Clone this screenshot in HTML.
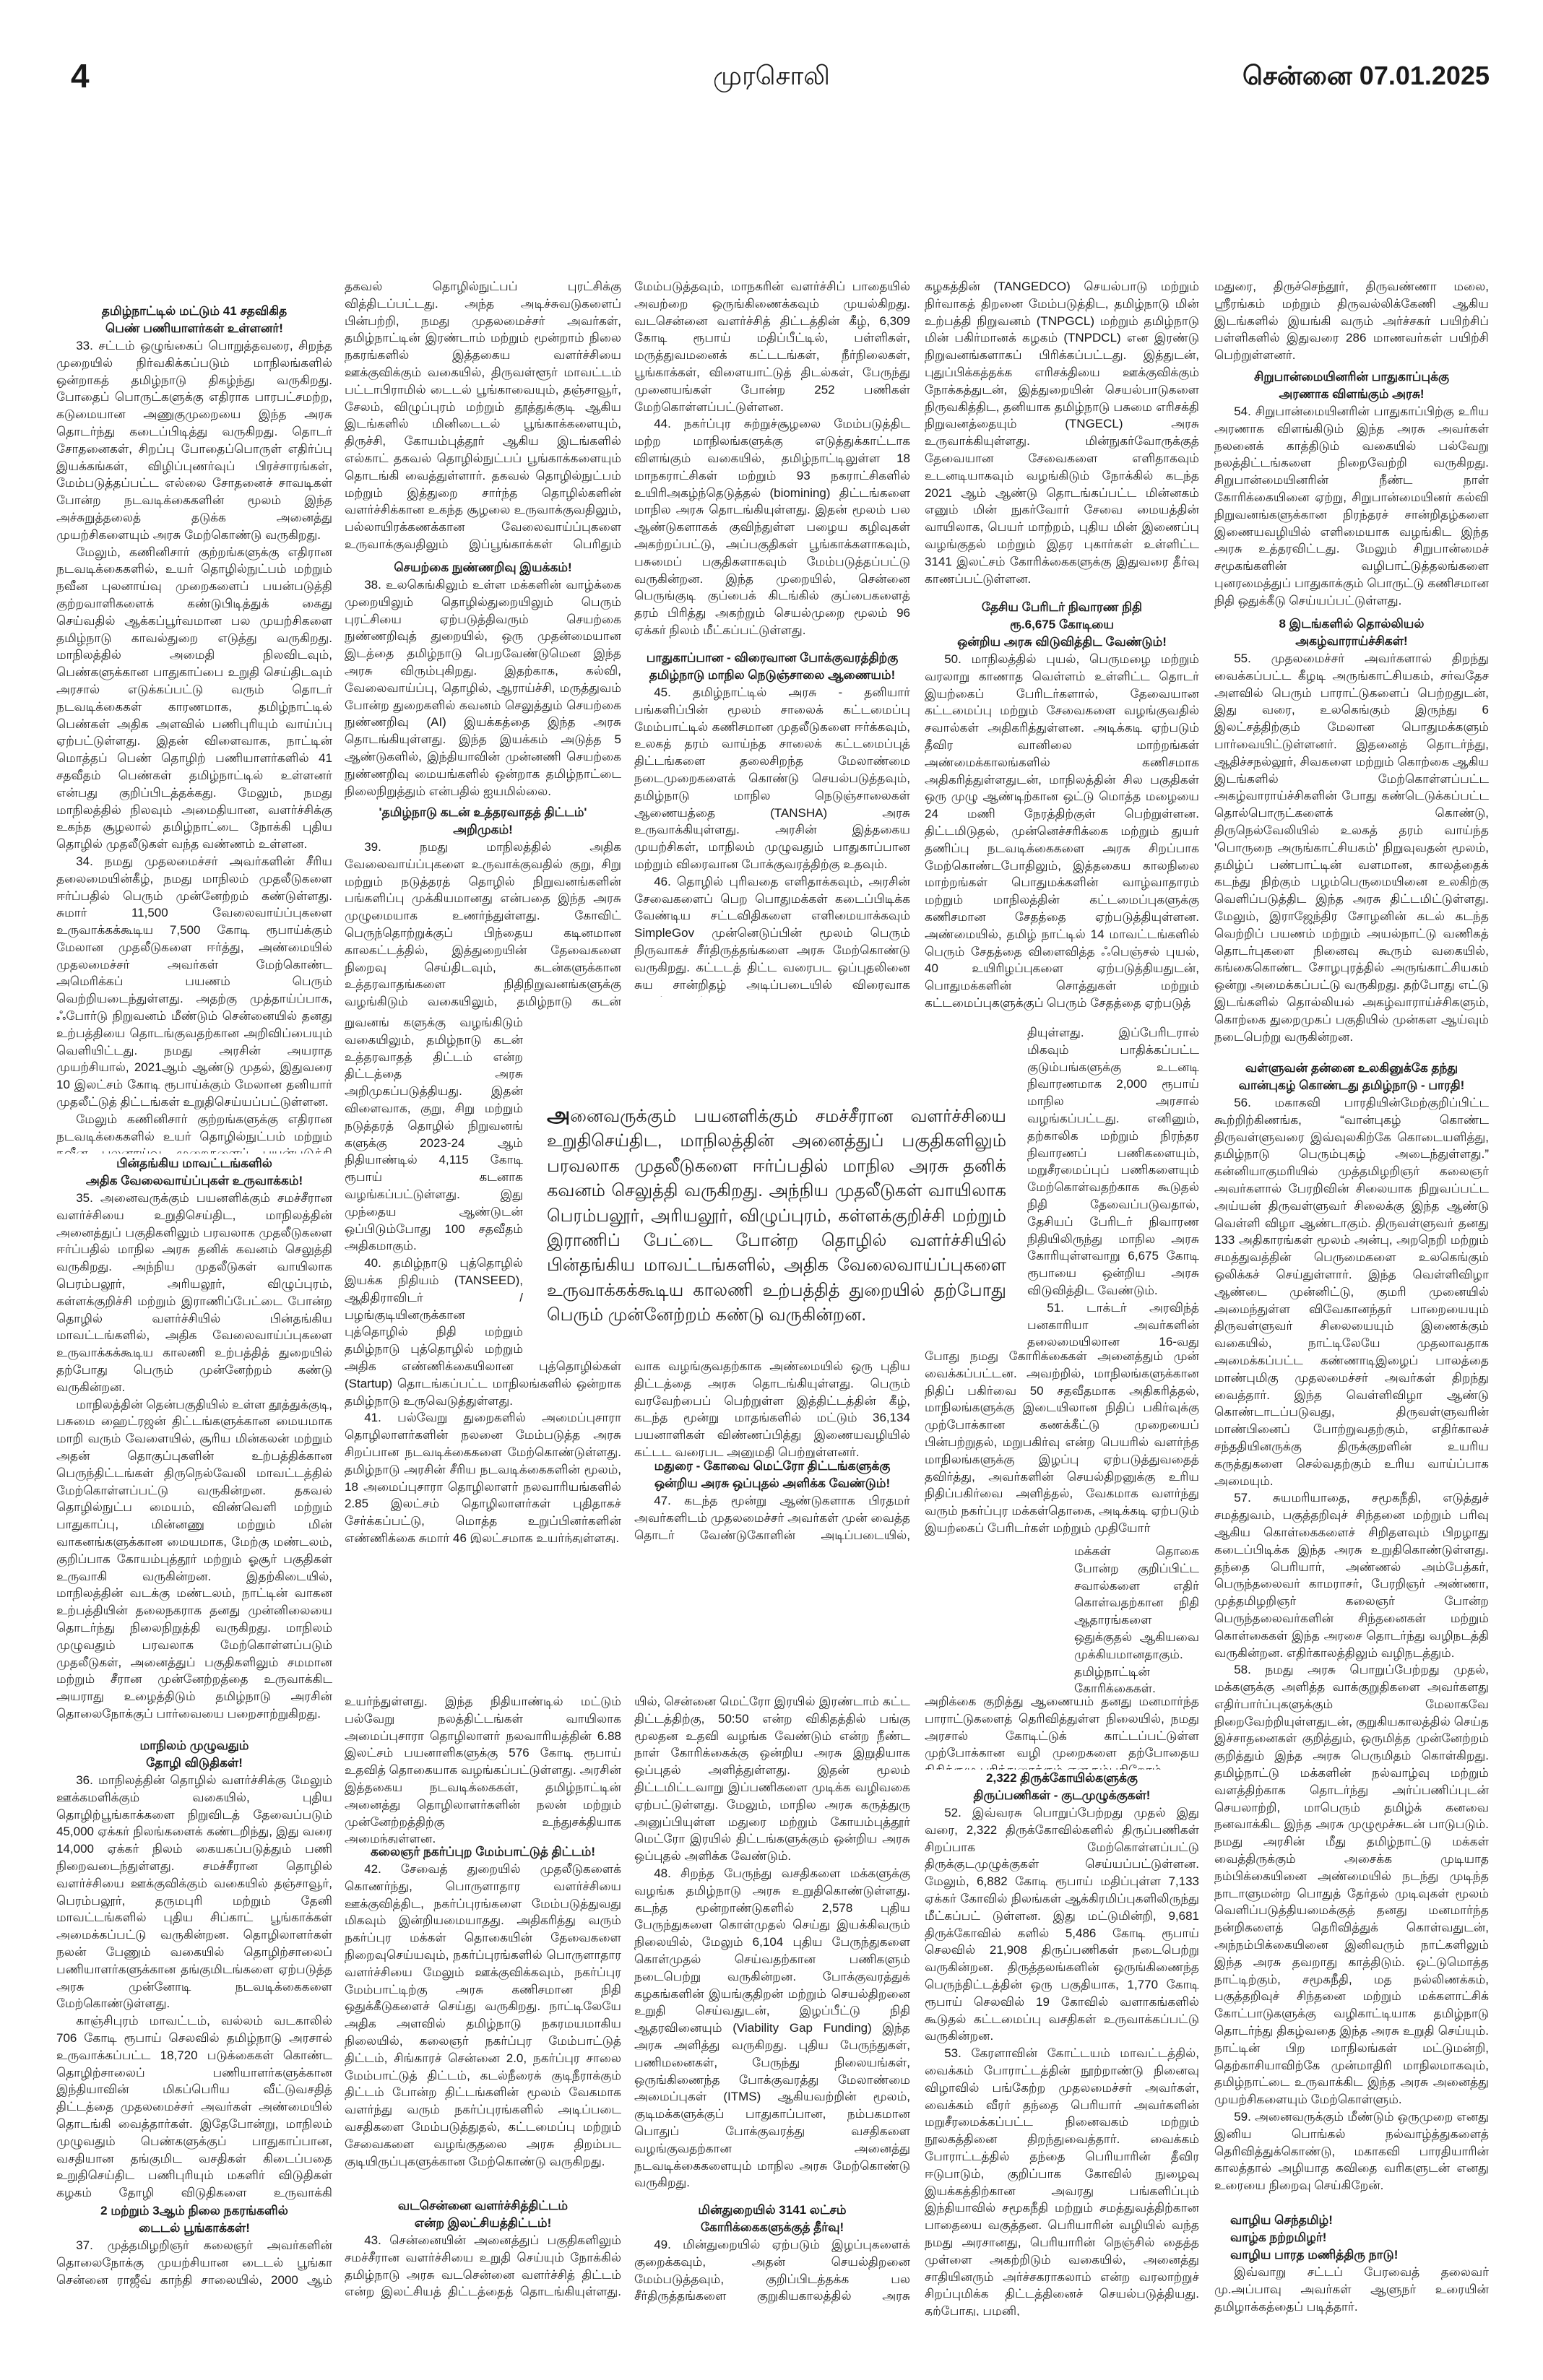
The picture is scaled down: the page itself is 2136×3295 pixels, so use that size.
<!DOCTYPE html>
<html><head><meta charset="utf-8">
<style>
html,body{margin:0;padding:0;background:#fff;}
body{width:2136px;height:3295px;position:relative;overflow:hidden;font-family:"Liberation Sans","DejaVu Sans",sans-serif;color:#1a1a1a;}
.b{position:absolute;overflow:hidden;text-align:justify;font-size:17px;line-height:23.8px;}
.b p{margin:0;text-indent:1.6em;}
.h{position:absolute;text-align:center;font-weight:bold;font-size:17px;line-height:23.8px;overflow:hidden;white-space:nowrap;}
.c1{left:78px;width:382px}.c2{left:477px;width:383px}.c3{left:878px;width:382px}.c4{left:1280px;width:380px}.c5{left:1681px;width:380px}
</style></head><body>

<div style="position:absolute;left:98px;top:80px;font-size:46px;font-weight:bold;line-height:50px;">4</div>
<div style="position:absolute;left:868px;width:400px;top:82px;font-size:36px;line-height:46px;text-align:center;">முரசொலி</div>
<div style="position:absolute;left:1600px;width:462px;top:82px;font-size:36px;font-weight:bold;line-height:46px;text-align:right;">சென்னை 07.01.2025</div>

<!-- COLUMN 1 -->
<div class="h c1" style="top:419px;">தமிழ்நாட்டில் மட்டும் 41 சதவிகித<br>பெண் பணியாளர்கள் உள்ளனர்!</div>
<div class="b c1" style="top:467px;height:1130px;">
<p>33. சட்டம் ஒழுங்கைப் பொறுத்தவரை, சிறந்த முறையில் நிர்வகிக்கப்படும் மாநிலங்களில் ஒன்றாகத் தமிழ்நாடு திகழ்ந்து வருகிறது. போதைப் பொருட்களுக்கு எதிராக பாரபட்சமற்ற, கடுமையான அணுகுமுறையை இந்த அரசு தொடர்ந்து கடைப்பிடித்து வருகிறது. தொடர் சோதனைகள், சிறப்பு போதைப்பொருள் எதிர்ப்பு இயக்கங்கள், விழிப்புணர்வுப் பிரச்சாரங்கள், மேம்படுத்தப்பட்ட எல்லை சோதனைச் சாவடிகள் போன்ற நடவடிக்கைகளின் மூலம் இந்த அச்சுறுத்தலைத் தடுக்க அனைத்து முயற்சிகளையும் அரசு மேற்கொண்டு வருகிறது.</p>
<p>மேலும், கணினிசார் குற்றங்களுக்கு எதிரான நடவடிக்கைகளில், உயர் தொழில்நுட்பம் மற்றும் நவீன புலனாய்வு முறைகளைப் பயன்படுத்தி குற்றவாளிகளைக் கண்டுபிடித்துக் கைது செய்வதில் ஆக்கப்பூர்வமான பல முயற்சிகளை தமிழ்நாடு காவல்துறை எடுத்து வருகிறது. மாநிலத்தில் அமைதி நிலவிடவும், பெண்களுக்கான பாதுகாப்பை உறுதி செய்திடவும் அரசால் எடுக்கப்பட்டு வரும் தொடர் நடவடிக்கைகள் காரணமாக, தமிழ்நாட்டில் பெண்கள் அதிக அளவில் பணிபுரியும் வாய்ப்பு ஏற்பட்டுள்ளது. இதன் விளைவாக, நாட்டின் மொத்தப் பெண் தொழிற் பணியாளர்களில் 41 சதவீதம் பெண்கள் தமிழ்நாட்டில் உள்ளனர் என்பது குறிப்பிடத்தக்கது. மேலும், நமது மாநிலத்தில் நிலவும் அமைதியான, வளர்ச்சிக்கு உகந்த சூழலால் தமிழ்நாட்டை நோக்கி புதிய தொழில் முதலீடுகள் வந்த வண்ணம் உள்ளன.</p>
<p>34. நமது முதலமைச்சர் அவர்களின் சீரிய தலைமையின்கீழ், நமது மாநிலம் முதலீடுகளை ஈர்ப்பதில் பெரும் முன்னேற்றம் கண்டுள்ளது. சுமார் 11,500 வேலைவாய்ப்புகளை உருவாக்கக்கூடிய 7,500 கோடி ரூபாய்க்கும் மேலான முதலீடுகளை ஈர்த்து, அண்மையில் முதலமைச்சர் அவர்கள் மேற்கொண்ட அமெரிக்கப் பயணம் பெரும் வெற்றியடைந்துள்ளது. அதற்கு முத்தாய்ப்பாக, ஃபோர்டு நிறுவனம் மீண்டும் சென்னையில் தனது உற்பத்தியை தொடங்குவதற்கான அறிவிப்பையும் வெளியிட்டது. நமது அரசின் அயராத முயற்சியால், 2021ஆம் ஆண்டு முதல், இதுவரை 10 இலட்சம் கோடி ரூபாய்க்கும் மேலான தனியார் முதலீட்டுத் திட்டங்கள் உறுதிசெய்யப்பட்டுள்ளன.</p>
<p>மேலும் கணினிசார் குற்றங்களுக்கு எதிரான நடவடிக்கைகளில் உயர் தொழில்நுட்பம் மற்றும் நவீன புலனாய்வு முறைகளைப் பயன்படுத்தி குற்றவாளிகளைக் கண்டுபிடித்துக் கைது செய்வதில் ஆக்கப்பூர்வமான பல முயற்சிகளை தமிழ்நாடு காவல்துறை எடுத்து வருகிறது.</p>
</div>
<div class="h c1" style="top:1599px;">பின்தங்கிய மாவட்டங்களில்<br>அதிக வேலைவாய்ப்புகள் உருவாக்கம்!</div>
<div class="b c1" style="top:1647px;height:758px;">
<p>35. அனைவருக்கும் பயனளிக்கும் சமச்சீரான வளர்ச்சியை உறுதிசெய்திட, மாநிலத்தின் அனைத்துப் பகுதிகளிலும் பரவலாக முதலீடுகளை ஈர்ப்பதில் மாநில அரசு தனிக் கவனம் செலுத்தி வருகிறது. அந்நிய முதலீடுகள் வாயிலாக பெரம்பலூர், அரியலூர், விழுப்புரம், கள்ளக்குறிச்சி மற்றும் இராணிப்பேட்டை போன்ற தொழில் வளர்ச்சியில் பின்தங்கிய மாவட்டங்களில், அதிக வேலைவாய்ப்புகளை உருவாக்கக்கூடிய காலணி உற்பத்தித் துறையில் தற்போது பெரும் முன்னேற்றம் கண்டு வருகின்றன.</p>
<p>மாநிலத்தின் தென்பகுதியில் உள்ள தூத்துக்குடி, பசுமை ஹைட்ரஜன் திட்டங்களுக்கான மையமாக மாறி வரும் வேளையில், சூரிய மின்கலன் மற்றும் அதன் தொகுப்புகளின் உற்பத்திக்கான பெருந்திட்டங்கள் திருநெல்வேலி மாவட்டத்தில் மேற்கொள்ளப்பட்டு வருகின்றன. தகவல் தொழில்நுட்ப மையம், விண்வெளி மற்றும் பாதுகாப்பு, மின்னணு மற்றும் மின் வாகனங்களுக்கான மையமாக, மேற்கு மண்டலம், குறிப்பாக கோயம்புத்தூர் மற்றும் ஓசூர் பகுதிகள் உருவாகி வருகின்றன. இதற்கிடையில், மாநிலத்தின் வடக்கு மண்டலம், நாட்டின் வாகன உற்பத்தியின் தலைநகராக தனது முன்னிலையை தொடர்ந்து நிலைநிறுத்தி வருகிறது. மாநிலம் முழுவதும் பரவலாக மேற்கொள்ளப்படும் முதலீடுகள், அனைத்துப் பகுதிகளிலும் சமமான மற்றும் சீரான முன்னேற்றத்தை உருவாக்கிட அயராது உழைத்திடும் தமிழ்நாடு அரசின் தொலைநோக்குப் பார்வையை பறைசாற்றுகிறது.</p>
</div>
<div class="h c1" style="top:2405px;">மாநிலம் முழுவதும்<br>தோழி விடுதிகள்!</div>
<div class="b c1" style="top:2453px;height:596px;">
<p>36. மாநிலத்தின் தொழில் வளர்ச்சிக்கு மேலும் ஊக்கமளிக்கும் வகையில், புதிய தொழிற்பூங்காக்களை நிறுவிடத் தேவைப்படும் 45,000 ஏக்கர் நிலங்களைக் கண்டறிந்து, இது வரை 14,000 ஏக்கர் நிலம் கையகப்படுத்தும் பணி நிறைவடைந்துள்ளது. சமச்சீரான தொழில் வளர்ச்சியை ஊக்குவிக்கும் வகையில் தஞ்சாவூர், பெரம்பலூர், தருமபுரி மற்றும் தேனி மாவட்டங்களில் புதிய சிப்காட் பூங்காக்கள் அமைக்கப்பட்டு வருகின்றன. தொழிலாளர்கள் நலன் பேணும் வகையில் தொழிற்சாலைப் பணியாளர்களுக்கான தங்குமிடங்களை ஏற்படுத்த அரசு முன்னோடி நடவடிக்கைகளை மேற்கொண்டுள்ளது.</p>
<p>காஞ்சிபுரம் மாவட்டம், வல்லம் வடகாலில் 706 கோடி ரூபாய் செலவில் தமிழ்நாடு அரசால் உருவாக்கப்பட்ட 18,720 படுக்கைகள் கொண்ட தொழிற்சாலைப் பணியாளர்களுக்கான இந்தியாவின் மிகப்பெரிய வீட்டுவசதித் திட்டத்தை முதலமைச்சர் அவர்கள் அண்மையில் தொடங்கி வைத்தார்கள். இதேபோன்று, மாநிலம் முழுவதும் பெண்களுக்குப் பாதுகாப்பான, வசதியான தங்குமிட வசதிகள் கிடைப்பதை உறுதிசெய்திட பணிபுரியும் மகளிர் விடுதிகள் கழகம் தோழி விடுதிகளை உருவாக்கி வருகின்றது.</p>
</div>
<div class="h c1" style="top:3049px;">2 மற்றும் 3ஆம் நிலை நகரங்களில்<br>டைடல் பூங்காக்கள்!</div>
<div class="b c1" style="top:3097px;height:72px;">
<p>37. முத்தமிழறிஞர் கலைஞர் அவர்களின் தொலைநோக்கு முயற்சியான டைடல் பூங்கா சென்னை ராஜீவ் காந்தி சாலையில், 2000 ஆம் ஆண்டில் நிறுவப்பட்டதன் மூலம், தமிழ்நாட்டில் தகவல் தொழில்நுட்பப் புரட்சிக்கு வித்திடப்பட்டது.</p>
</div>

<!-- COLUMN 2 -->
<div class="b c2" style="top:385px;height:382px;">
<p style="text-indent:0">தகவல் தொழில்நுட்பப் புரட்சிக்கு வித்திடப்பட்டது. அந்த அடிச்சுவடுகளைப் பின்பற்றி, நமது முதலமைச்சர் அவர்கள், தமிழ்நாட்டின் இரண்டாம் மற்றும் மூன்றாம் நிலை நகரங்களில் இத்தகைய வளர்ச்சியை ஊக்குவிக்கும் வகையில், திருவள்ளூர் மாவட்டம் பட்டாபிராமில் டைடல் பூங்காவையும், தஞ்சாவூர், சேலம், விழுப்புரம் மற்றும் தூத்துக்குடி ஆகிய இடங்களில் மினிடைடல் பூங்காக்களையும், திருச்சி, கோயம்புத்தூர் ஆகிய இடங்களில் எல்காட் தகவல் தொழில்நுட்பப் பூங்காக்களையும் தொடங்கி வைத்துள்ளார். தகவல் தொழில்நுட்பம் மற்றும் இத்துறை சார்ந்த தொழில்களின் வளர்ச்சிக்கான உகந்த சூழலை உருவாக்குவதிலும், பல்லாயிரக்கணக்கான வேலைவாய்ப்புகளை உருவாக்குவதிலும் இப்பூங்காக்கள் பெரிதும் உதவும்.</p>
</div>
<div class="h c2" style="top:774px;">செயற்கை நுண்ணறிவு இயக்கம்!</div>
<div class="b c2" style="top:798px;height:310px;">
<p>38. உலகெங்கிலும் உள்ள மக்களின் வாழ்க்கை முறையிலும் தொழில்துறையிலும் பெரும் புரட்சியை ஏற்படுத்திவரும் செயற்கை நுண்ணறிவுத் துறையில், ஒரு முதன்மையான இடத்தை தமிழ்நாடு பெறவேண்டுமென இந்த அரசு விரும்புகிறது. இதற்காக, கல்வி, வேலைவாய்ப்பு, தொழில், ஆராய்ச்சி, மருத்துவம் போன்ற துறைகளில் கவனம் செலுத்தும் செயற்கை நுண்ணறிவு (AI) இயக்கத்தை இந்த அரசு தொடங்கியுள்ளது. இந்த இயக்கம் அடுத்த 5 ஆண்டுகளில், இந்தியாவின் முன்னணி செயற்கை நுண்ணறிவு மையங்களில் ஒன்றாக தமிழ்நாட்டை நிலைநிறுத்தும் என்பதில் ஐயமில்லை.</p>
</div>
<div class="h c2" style="top:1113px;">'தமிழ்நாடு கடன் உத்தரவாதத் திட்டம்'<br>அறிமுகம்!</div>
<div class="b c2" style="top:1161px;height:240px;">
<p>39. நமது மாநிலத்தில் அதிக வேலைவாய்ப்புகளை உருவாக்குவதில் குறு, சிறு மற்றும் நடுத்தரத் தொழில் நிறுவனங்களின் பங்களிப்பு முக்கியமானது என்பதை இந்த அரசு முழுமையாக உணர்ந்துள்ளது. கோவிட் பெருந்தொற்றுக்குப் பிந்தைய கடினமான காலகட்டத்தில், இத்துறையின் தேவைகளை நிறைவு செய்திடவும், கடன்களுக்கான உத்தரவாதங்களை நிதிநிறுவனங்களுக்கு வழங்கிடும் வகையிலும், தமிழ்நாடு கடன் உத்தரவாதத் திட்டம்.</p>
</div>
<div class="b" style="left:477px;width:247px;top:1404px;height:476px;">
<p style="text-indent:0">றுவனங் களுக்கு வழங்கிடும் வகையிலும், தமிழ்நாடு கடன் உத்தரவாதத் திட்டம் என்ற திட்டத்தை அரசு அறிமுகப்படுத்தியது. இதன் விளைவாக, குறு, சிறு மற்றும் நடுத்தரத் தொழில் நிறுவனங் களுக்கு 2023-24 ஆம் நிதியாண்டில் 4,115 கோடி ரூபாய் கடனாக வழங்கப்பட்டுள்ளது. இது முந்தைய ஆண்டுடன் ஒப்பிடும்போது 100 சதவீதம் அதிகமாகும்.</p>
<p>40. தமிழ்நாடு புத்தொழில் இயக்க நிதியம் (TANSEED), ஆதிதிராவிடர் / பழங்குடியினருக்கான புத்தொழில் நிதி மற்றும் தமிழ்நாடு புத்தொழில் மற்றும் புத்தாக்கக் கொள்கை போன்ற மாநில அரசின் திட்டங்களின் மூலம், நாட்டிலேயே</p>
</div>
<div class="b c2" style="top:1880px;height:256px;">
<p style="text-indent:0">அதிக எண்ணிக்கையிலான புத்தொழில்கள் (Startup) தொடங்கப்பட்ட மாநிலங்களில் ஒன்றாக தமிழ்நாடு உருவெடுத்துள்ளது.</p>
<p>41. பல்வேறு துறைகளில் அமைப்புசாரா தொழிலாளர்களின் நலனை மேம்படுத்த அரசு சிறப்பான நடவடிக்கைகளை மேற்கொண்டுள்ளது. தமிழ்நாடு அரசின் சீரிய நடவடிக்கைகளின் மூலம், 18 அமைப்புசாரா தொழிலாளர் நலவாரியங்களில் 2.85 இலட்சம் தொழிலாளர்கள் புதிதாகச் சேர்க்கப்பட்டு, மொத்த உறுப்பினர்களின் எண்ணிக்கை சுமார் 46 இலட்சமாக உயர்ந்துள்ளது.</p>
</div>
<div class="b c2" style="top:2344px;height:208px;">
<p style="text-indent:0">உயர்ந்துள்ளது. இந்த நிதியாண்டில் மட்டும் பல்வேறு நலத்திட்டங்கள் வாயிலாக அமைப்புசாரா தொழிலாளர் நலவாரியத்தின் 6.88 இலட்சம் பயனாளிகளுக்கு 576 கோடி ரூபாய் உதவித் தொகையாக வழங்கப்பட்டுள்ளது. அரசின் இத்தகைய நடவடிக்கைகள், தமிழ்நாட்டின் அனைத்து தொழிலாளர்களின் நலன் மற்றும் முன்னேற்றத்திற்கு உந்துசக்தியாக அமைந்துள்ளன.</p>
</div>
<div class="h c2" style="top:2552px;">கலைஞர் நகர்ப்புற மேம்பாட்டுத் திட்டம்!</div>
<div class="b c2" style="top:2576px;height:466px;">
<p>42. சேவைத் துறையில் முதலீடுகளைக் கொணர்ந்து, பொருளாதார வளர்ச்சியை ஊக்குவித்திட, நகர்ப்புரங்களை மேம்படுத்துவது மிகவும் இன்றியமையாதது. அதிகரித்து வரும் நகர்ப்புர மக்கள் தொகையின் தேவைகளை நிறைவுசெய்யவும், நகர்ப்புரங்களில் பொருளாதார வளர்ச்சியை மேலும் ஊக்குவிக்கவும், நகர்ப்புர மேம்பாட்டிற்கு அரசு கணிசமான நிதி ஒதுக்கீடுகளைச் செய்து வருகிறது. நாட்டிலேயே அதிக அளவில் தமிழ்நாடு நகரமயமாகிய நிலையில், கலைஞர் நகர்ப்புர மேம்பாட்டுத் திட்டம், சிங்காரச் சென்னை 2.0, நகர்ப்புர சாலை மேம்பாட்டுத் திட்டம், கடல்நீரைக் குடிநீராக்கும் திட்டம் போன்ற திட்டங்களின் மூலம் வேகமாக வளர்ந்து வரும் நகர்ப்புரங்களில் அடிப்படை வசதிகளை மேம்படுத்துதல், கட்டமைப்பு மற்றும் சேவைகளை வழங்குதலை அரசு திறம்பட குடியிருப்புகளுக்கான மேற்கொண்டு வருகிறது.</p>
</div>
<div class="h c2" style="top:3042px;">வடசென்னை வளர்ச்சித்திட்டம்<br>என்ற இலட்சியத்திட்டம்!</div>
<div class="b c2" style="top:3090px;height:96px;">
<p>43. சென்னையின் அனைத்துப் பகுதிகளிலும் சமச்சீரான வளர்ச்சியை உறுதி செய்யும் நோக்கில் தமிழ்நாடு அரசு வடசென்னை வளர்ச்சித் திட்டம் என்ற இலட்சியத் திட்டத்தைத் தொடங்கியுள்ளது. இந்த முன்முயற்சியானது, சென்னையிலுள்ள வளர்ச்சி குறைந்த பகுதிகளை</p>
</div>

<!-- COLUMN 3 -->
<div class="b c3" style="top:385px;height:514px;">
<p style="text-indent:0">மேம்படுத்தவும், மாநகரின் வளர்ச்சிப் பாதையில் அவற்றை ஒருங்கிணைக்கவும் முயல்கிறது. வடசென்னை வளர்ச்சித் திட்டத்தின் கீழ், 6,309 கோடி ரூபாய் மதிப்பீட்டில், பள்ளிகள், மருத்துவமனைக் கட்டடங்கள், நீர்நிலைகள், பூங்காக்கள், விளையாட்டுத் திடல்கள், பேருந்து முனையங்கள் போன்ற 252 பணிகள் மேற்கொள்ளப்பட்டுள்ளன.</p>
<p>44. நகர்ப்புர சுற்றுச்சூழலை மேம்படுத்திட மற்ற மாநிலங்களுக்கு எடுத்துக்காட்டாக விளங்கும் வகையில், தமிழ்நாட்டிலுள்ள 18 மாநகராட்சிகள் மற்றும் 93 நகராட்சிகளில் உயிரிஅகழ்ந்தெடுத்தல் (biomining) திட்டங்களை மாநில அரசு தொடங்கியுள்ளது. இதன் மூலம் பல ஆண்டுகளாகக் குவிந்துள்ள பழைய கழிவுகள் அகற்றப்பட்டு, அப்பகுதிகள் பூங்காக்களாகவும், பசுமைப் பகுதிகளாகவும் மேம்படுத்தப்பட்டு வருகின்றன. இந்த முறையில், சென்னை பெருங்குடி குப்பைக் கிடங்கில் குப்பைகளைத் தரம் பிரித்து அகற்றும் செயல்முறை மூலம் 96 ஏக்கர் நிலம் மீட்கப்பட்டுள்ளது.</p>
</div>
<div class="h c3" style="top:899px;">பாதுகாப்பான - விரைவான போக்குவரத்திற்கு<br>தமிழ்நாடு மாநில நெடுஞ்சாலை ஆணையம்!</div>
<div class="b c3" style="top:947px;height:433px;">
<p>45. தமிழ்நாட்டில் அரசு - தனியார் பங்களிப்பின் மூலம் சாலைக் கட்டமைப்பு மேம்பாட்டில் கணிசமான முதலீடுகளை ஈர்க்கவும், உலகத் தரம் வாய்ந்த சாலைக் கட்டமைப்புத் திட்டங்களை தலைசிறந்த மேலாண்மை நடைமுறைகளைக் கொண்டு செயல்படுத்தவும், தமிழ்நாடு மாநில நெடுஞ்சாலைகள் ஆணையத்தை (TANSHA) அரசு உருவாக்கியுள்ளது. அரசின் இத்தகைய முயற்சிகள், மாநிலம் முழுவதும் பாதுகாப்பான மற்றும் விரைவான போக்குவரத்திற்கு உதவும்.</p>
<p>46. தொழில் புரிவதை எளிதாக்கவும், அரசின் சேவைகளைப் பெற பொதுமக்கள் கடைப்பிடிக்க வேண்டிய சட்டவிதிகளை எளிமையாக்கவும் SimpleGov முன்னெடுப்பின் மூலம் பெரும் நிருவாகச் சீர்திருத்தங்களை அரசு மேற்கொண்டு வருகிறது. கட்டடத் திட்ட வரைபட ஒப்புதலினை சுய சான்றிதழ் அடிப்படையில் விரைவாக வழங்குவதற்காக.</p>
</div>
<div class="b c3" style="top:1880px;height:138px;">
<p style="text-indent:0">வாக வழங்குவதற்காக அண்மையில் ஒரு புதிய திட்டத்தை அரசு தொடங்கியுள்ளது. பெரும் வரவேற்பைப் பெற்றுள்ள இத்திட்டத்தின் கீழ், கடந்த மூன்று மாதங்களில் மட்டும் 36,134 பயனாளிகள் விண்ணப்பித்து இணையவழியில் கட்டட வரைபட அனுமதி பெற்றுள்ளனர்.</p>
</div>
<div class="h c3" style="top:2018px;">மதுரை - கோவை மெட்ரோ திட்டங்களுக்கு<br>ஒன்றிய அரசு ஒப்புதல் அளிக்க வேண்டும்!</div>
<div class="b c3" style="top:2066px;height:72px;">
<p>47. கடந்த மூன்று ஆண்டுகளாக பிரதமர் அவர்களிடம் முதலமைச்சர் அவர்கள் முன் வைத்த தொடர் வேண்டுகோளின் அடிப்படையில், சென்னை மெட்ரோ.</p>
</div>
<div class="b c3" style="top:2344px;height:704px;">
<p style="text-indent:0">யில், சென்னை மெட்ரோ இரயில் இரண்டாம் கட்ட திட்டத்திற்கு, 50:50 என்ற விகிதத்தில் பங்கு மூலதன உதவி வழங்க வேண்டும் என்ற நீண்ட நாள் கோரிக்கைக்கு ஒன்றிய அரசு இறுதியாக ஒப்புதல் அளித்துள்ளது. இதன் மூலம் திட்டமிட்டவாறு இப்பணிகளை முடிக்க வழிவகை ஏற்பட்டுள்ளது. மேலும், மாநில அரசு கருத்துரு அனுப்பியுள்ள மதுரை மற்றும் கோயம்புத்தூர் மெட்ரோ இரயில் திட்டங்களுக்கும் ஒன்றிய அரசு ஒப்புதல் அளிக்க வேண்டும்.</p>
<p>48. சிறந்த பேருந்து வசதிகளை மக்களுக்கு வழங்க தமிழ்நாடு அரசு உறுதிகொண்டுள்ளது. கடந்த மூன்றாண்டுகளில் 2,578 புதிய பேருந்துகளை கொள்முதல் செய்து இயக்கிவரும் நிலையில், மேலும் 6,104 புதிய பேருந்துகளை கொள்முதல் செய்வதற்கான பணிகளும் நடைபெற்று வருகின்றன. போக்குவரத்துக் கழகங்களின் இயங்குதிறன் மற்றும் செயல்திறனை உறுதி செய்வதுடன், இழப்பீட்டு நிதி ஆதரவினையும் (Viability Gap Funding) இந்த அரசு அளித்து வருகிறது. புதிய பேருந்துகள், பணிமனைகள், பேருந்து நிலையங்கள், ஒருங்கிணைந்த போக்குவரத்து மேலாண்மை அமைப்புகள் (ITMS) ஆகியவற்றின் மூலம், குடிமக்களுக்குப் பாதுகாப்பான, நம்பகமான பொதுப் போக்குவரத்து வசதிகளை வழங்குவதற்கான அனைத்து நடவடிக்கைகளையும் மாநில அரசு மேற்கொண்டு வருகிறது.</p>
</div>
<div class="h c3" style="top:3048px;">மின்துறையில் 3141 லட்சம்<br>கோரிக்கைகளுக்குத் தீர்வு!</div>
<div class="b c3" style="top:3096px;height:96px;">
<p>49. மின்துறையில் ஏற்படும் இழப்புகளைக் குறைக்கவும், அதன் செயல்திறனை மேம்படுத்தவும், குறிப்பிடத்தக்க பல சீர்திருத்தங்களை குறுகியகாலத்தில் அரசு மேற்கொண்டுள்ளது. தமிழ்நாடு மின் உற்பத்தி மற்றும் பகிர்மானக்</p>
</div>

<!-- BOX -->
<div style="position:absolute;left:757px;width:636px;top:1527px;height:312px;overflow:hidden;font-size:24px;line-height:34.4px;text-align:justify;">
<span style="font-weight:bold;font-size:29px;">அ</span>னைவருக்கும் பயனளிக்கும் சமச்சீரான வளர்ச்சியை உறுதிசெய்திட, மாநிலத்தின் அனைத்துப் பகுதிகளிலும் பரவலாக முதலீடுகளை ஈர்ப்பதில் மாநில அரசு தனிக் கவனம் செலுத்தி வருகிறது. அந்நிய முதலீடுகள் வாயிலாக பெரம்பலூர், அரியலூர், விழுப்புரம், கள்ளக்குறிச்சி மற்றும் இராணிப் பேட்டை போன்ற தொழில் வளர்ச்சியில் பின்தங்கிய மாவட்டங்களில், அதிக வேலைவாய்ப்புகளை உருவாக்கக்கூடிய காலணி உற்பத்தித் துறையில் தற்போது பெரும் முன்னேற்றம் கண்டு வருகின்றன.
</div>

<!-- COLUMN 4 -->
<div class="b c4" style="top:385px;height:444px;">
<p style="text-indent:0">கழகத்தின் (TANGEDCO) செயல்பாடு மற்றும் நிர்வாகத் திறனை மேம்படுத்திட, தமிழ்நாடு மின் உற்பத்தி நிறுவனம் (TNPGCL) மற்றும் தமிழ்நாடு மின் பகிர்மானக் கழகம் (TNPDCL) என இரண்டு நிறுவனங்களாகப் பிரிக்கப்பட்டது. இத்துடன், புதுப்பிக்கத்தக்க எரிசக்தியை ஊக்குவிக்கும் நோக்கத்துடன், இத்துறையின் செயல்பாடுகளை நிருவகித்திட, தனியாக தமிழ்நாடு பசுமை எரிசக்தி நிறுவனத்தையும் (TNGECL) அரசு உருவாக்கியுள்ளது. மின்நுகர்வோருக்குத் தேவையான சேவைகளை எளிதாகவும் உடனடியாகவும் வழங்கிடும் நோக்கில் கடந்த 2021 ஆம் ஆண்டு தொடங்கப்பட்ட மின்னகம் எனும் மின் நுகர்வோர் சேவை மையத்தின் வாயிலாக, பெயர் மாற்றம், புதிய மின் இணைப்பு வழங்குதல் மற்றும் இதர புகார்கள் உள்ளிட்ட 3141 இலட்சம் கோரிக்கைகளுக்கு இதுவரை தீர்வு காணப்பட்டுள்ளன.</p>
</div>
<div class="h c4" style="top:829px;">தேசிய பேரிடர் நிவாரண நிதி<br>ரூ.6,675 கோடியை<br>ஒன்றிய அரசு விடுவித்திட வேண்டும்!</div>
<div class="b c4" style="top:901px;height:505px;">
<p>50. மாநிலத்தில் புயல், பெருமழை மற்றும் வரலாறு காணாத வெள்ளம் உள்ளிட்ட தொடர் இயற்கைப் பேரிடர்களால், தேவையான கட்டமைப்பு மற்றும் சேவைகளை வழங்குவதில் சவால்கள் அதிகரித்துள்ளன. அடிக்கடி ஏற்படும் தீவிர வானிலை மாற்றங்கள் அண்மைக்காலங்களில் கணிசமாக அதிகரித்துள்ளதுடன், மாநிலத்தின் சில பகுதிகள் ஒரு முழு ஆண்டிற்கான ஒட்டு மொத்த மழையை 24 மணி நேரத்திற்குள் பெற்றுள்ளன. திட்டமிடுதல், முன்னெச்சரிக்கை மற்றும் துயர் தணிப்பு நடவடிக்கைகளை அரசு சிறப்பாக மேற்கொண்டபோதிலும், இத்தகைய காலநிலை மாற்றங்கள் பொதுமக்களின் வாழ்வாதாரம் மற்றும் மாநிலத்தின் கட்டமைப்புகளுக்கு கணிசமான சேதத்தை ஏற்படுத்தியுள்ளன. அண்மையில், தமிழ் நாட்டில் 14 மாவட்டங்களில் பெரும் சேதத்தை விளைவித்த ஃபெஞ்சல் புயல், 40 உயிரிழப்புகளை ஏற்படுத்தியதுடன், பொதுமக்களின் சொத்துகள் மற்றும் கட்டமைப்புகளுக்குப் பெரும் சேதத்தை ஏற்படுத்</p>
</div>
<div class="b" style="left:1422px;width:238px;top:1418px;height:452px;">
<p style="text-indent:0">தியுள்ளது. இப்பேரிடரால் மிகவும் பாதிக்கப்பட்ட குடும்பங்களுக்கு உடனடி நிவாரணமாக 2,000 ரூபாய் மாநில அரசால் வழங்கப்பட்டது. எனினும், தற்காலிக மற்றும் நிரந்தர நிவாரணப் பணிகளையும், மறுசீரமைப்புப் பணிகளையும் மேற்கொள்வதற்காக கூடுதல் நிதி தேவைப்படுவதால், தேசியப் பேரிடர் நிவாரண நிதியிலிருந்து மாநில அரசு கோரியுள்ளவாறு 6,675 கோடி ரூபாயை ஒன்றிய அரசு விடுவித்திட வேண்டும்.</p>
<p>51. டாக்டர் அரவிந்த் பனகாரியா அவர்களின் தலைமையிலான 16-வது நிதிக்குழு தமிழ்நாட்டிற்கு வருகை தந்த</p>
</div>
<div class="b c4" style="top:1866px;height:270px;">
<p style="text-indent:0">போது நமது கோரிக்கைகள் அனைத்தும் முன் வைக்கப்பட்டன. அவற்றில், மாநிலங்களுக்கான நிதிப் பகிர்வை 50 சதவீதமாக அதிகரித்தல், மாநிலங்களுக்கு இடையிலான நிதிப் பகிர்வுக்கு முற்போக்கான கணக்கீட்டு முறையைப் பின்பற்றுதல், மறுபகிர்வு என்ற பெயரில் வளர்ந்த மாநிலங்களுக்கு இழப்பு ஏற்படுத்துவதைத் தவிர்த்து, அவர்களின் செயல்திறனுக்கு உரிய நிதிப்பகிர்வை அளித்தல், வேகமாக வளர்ந்து வரும் நகர்ப்புர மக்கள்தொகை, அடிக்கடி ஏற்படும் இயற்கைப் பேரிடர்கள் மற்றும் முதியோர்</p>
</div>
<div class="b" style="left:1487px;width:173px;top:2136px;height:208px;">
<p style="text-indent:0">மக்கள் தொகை போன்ற குறிப்பிட்ட சவால்களை எதிர் கொள்வதற்கான நிதி ஆதாரங்களை ஒதுக்குதல் ஆகியவை முக்கியமானதாகும். தமிழ்நாட்டின் கோரிக்கைகள்.</p>
</div>
<div class="b c4" style="top:2344px;height:106px;">
<p style="text-indent:0">அறிக்கை குறித்து ஆணையம் தனது மனமார்ந்த பாராட்டுகளைத் தெரிவித்துள்ள நிலையில், நமது அரசால் கோடிட்டுக் காட்டப்பட்டுள்ள முற்போக்கான வழி முறைகளை தற்போதைய நிதிக்குழு பரிந்துரைக்கும் என நம்புகிறோம்.</p>
</div>
<div class="h c4" style="top:2450px;">2,322 திருக்கோயில்களுக்கு<br>திருப்பணிகள் - குடமுழுக்குகள்!</div>
<div class="b c4" style="top:2498px;height:708px;">
<p>52. இவ்வரசு பொறுப்பேற்றது முதல் இது வரை, 2,322 திருக்கோவில்களில் திருப்பணிகள் சிறப்பாக மேற்கொள்ளப்பட்டு திருக்குடமுழுக்குகள் செய்யப்பட்டுள்ளன. மேலும், 6,882 கோடி ரூபாய் மதிப்புள்ள 7,133 ஏக்கர் கோவில் நிலங்கள் ஆக்கிரமிப்புகளிலிருந்து மீட்கப்பட் டுள்ளன. இது மட்டுமின்றி, 9,681 திருக்கோவில் களில் 5,486 கோடி ரூபாய் செலவில் 21,908 திருப்பணிகள் நடைபெற்று வருகின்றன. திருத்தலங்களின் ஒருங்கிணைந்த பெருந்திட்டத்தின் ஒரு பகுதியாக, 1,770 கோடி ரூபாய் செலவில் 19 கோவில் வளாகங்களில் கூடுதல் கட்டமைப்பு வசதிகள் உருவாக்கப்பட்டு வருகின்றன.</p>
<p>53. கேரளாவின் கோட்டயம் மாவட்டத்தில், வைக்கம் போராட்டத்தின் நூற்றாண்டு நினைவு விழாவில் பங்கேற்ற முதலமைச்சர் அவர்கள், வைக்கம் வீரர் தந்தை பெரியார் அவர்களின் மறுசீரமைக்கப்பட்ட நினைவகம் மற்றும் நூலகத்தினை திறந்துவைத்தார். வைக்கம் போராட்டத்தில் தந்தை பெரியாரின் தீவிர ஈடுபாடும், குறிப்பாக கோவில் நுழைவு இயக்கத்திற்கான அவரது பங்களிப்பும் இந்தியாவில் சமூகநீதி மற்றும் சமத்துவத்திற்கான பாதையை வகுத்தன. பெரியாரின் வழியில் வந்த நமது அரசானது, பெரியாரின் நெஞ்சில் தைத்த முள்ளை அகற்றிடும் வகையில், அனைத்து சாதியினரும் அர்ச்சகராகலாம் என்ற வரலாற்றுச் சிறப்புமிக்க திட்டத்தினைச் செயல்படுத்தியது. தற்போது, பழனி,</p>
</div>

<!-- COLUMN 5 -->
<div class="b c5" style="top:385px;height:125px;">
<p style="text-indent:0">மதுரை, திருச்செந்தூர், திருவண்ணா மலை, ஸ்ரீரங்கம் மற்றும் திருவல்லிக்கேணி ஆகிய இடங்களில் இயங்கி வரும் அர்ச்சகர் பயிற்சிப் பள்ளிகளில் இதுவரை 286 மாணவர்கள் பயிற்சி பெற்றுள்ளனர்.</p>
</div>
<div class="h c5" style="top:510px;">சிறுபான்மையினரின் பாதுகாப்புக்கு<br>அரணாக விளங்கும் அரசு!</div>
<div class="b c5" style="top:558px;height:294px;">
<p>54. சிறுபான்மையினரின் பாதுகாப்பிற்கு உரிய அரணாக விளங்கிடும் இந்த அரசு அவர்கள் நலனைக் காத்திடும் வகையில் பல்வேறு நலத்திட்டங்களை நிறைவேற்றி வருகிறது. சிறுபான்மையினரின் நீண்ட நாள் கோரிக்கையினை ஏற்று, சிறுபான்மையினர் கல்வி நிறுவனங்களுக்கான நிரந்தரச் சான்றிதழ்களை இணையவழியில் எளிமையாக வழங்கிட இந்த அரசு உத்தரவிட்டது. மேலும் சிறுபான்மைச் சமூகங்களின் வழிபாட்டுத்தலங்களை புனரமைத்துப் பாதுகாக்கும் பொருட்டு கணிசமான நிதி ஒதுக்கீடு செய்யப்பட்டுள்ளது.</p>
</div>
<div class="h c5" style="top:852px;">8 இடங்களில் தொல்லியல்<br>அகழ்வாராய்ச்சிகள்!</div>
<div class="b c5" style="top:900px;height:567px;">
<p>55. முதலமைச்சர் அவர்களால் திறந்து வைக்கப்பட்ட கீழடி அருங்காட்சியகம், சர்வதேச அளவில் பெரும் பாராட்டுகளைப் பெற்றதுடன், இது வரை, உலகெங்கும் இருந்து 6 இலட்சத்திற்கும் மேலான பொதுமக்களும் பார்வையிட்டுள்ளனர். இதனைத் தொடர்ந்து, ஆதிச்சநல்லூர், சிவகளை மற்றும் கொற்கை ஆகிய இடங்களில் மேற்கொள்ளப்பட்ட அகழ்வாராய்ச்சிகளின் போது கண்டெடுக்கப்பட்ட தொல்பொருட்களைக் கொண்டு, திருநெல்வேலியில் உலகத் தரம் வாய்ந்த 'பொருநை அருங்காட்சியகம்' நிறுவுவதன் மூலம், தமிழ்ப் பண்பாட்டின் வளமான, காலத்தைக் கடந்து நிற்கும் பழம்பெருமையினை உலகிற்கு வெளிப்படுத்திட இந்த அரசு திட்டமிட்டுள்ளது. மேலும், இராஜேந்திர சோழனின் கடல் கடந்த வெற்றிப் பயணம் மற்றும் அயல்நாட்டு வணிகத் தொடர்புகளை நினைவு கூரும் வகையில், கங்கைகொண்ட சோழபுரத்தில் அருங்காட்சியகம் ஒன்று அமைக்கப்பட்டு வருகிறது. தற்போது எட்டு இடங்களில் தொல்லியல் அகழ்வாராய்ச்சிகளும், கொற்கை துறைமுகப் பகுதியில் முன்கள ஆய்வும் நடைபெற்று வருகின்றன.</p>
</div>
<div class="h c5" style="top:1467px;">வள்ளுவன் தன்னை உலகினுக்கே தந்து<br>வான்புகழ் கொண்டது தமிழ்நாடு - பாரதி!</div>
<div class="b c5" style="top:1515px;height:1547px;">
<p>56. மகாகவி பாரதியின்மேற்குறிப்பிட்ட கூற்றிற்கிணங்க, “வான்புகழ் கொண்ட திருவள்ளுவரை இவ்வுலகிற்கே கொடையளித்து, தமிழ்நாடு பெரும்புகழ் அடைந்துள்ளது.” கன்னியாகுமரியில் முத்தமிழறிஞர் கலைஞர் அவர்களால் பேரறிவின் சிலையாக நிறுவப்பட்ட அய்யன் திருவள்ளுவர் சிலைக்கு இந்த ஆண்டு வெள்ளி விழா ஆண்டாகும். திருவள்ளுவர் தனது 133 அதிகாரங்கள் மூலம் அன்பு, அறநெறி மற்றும் சமத்துவத்தின் பெருமைகளை உலகெங்கும் ஒலிக்கச் செய்துள்ளார். இந்த வெள்ளிவிழா ஆண்டை முன்னிட்டு, குமரி முனையில் அமைந்துள்ள விவேகானந்தர் பாறையையும் திருவள்ளுவர் சிலையையும் இணைக்கும் வகையில், நாட்டிலேயே முதலாவதாக அமைக்கப்பட்ட கண்ணாடிஇழைப் பாலத்தை மாண்புமிகு முதலமைச்சர் அவர்கள் திறந்து வைத்தார். இந்த வெள்ளிவிழா ஆண்டு கொண்டாடப்படுவது, திருவள்ளுவரின் மாண்பினைப் போற்றுவதற்கும், எதிர்காலச் சந்ததியினருக்கு திருக்குறளின் உயரிய கருத்துகளை செல்வதற்கும் உரிய வாய்ப்பாக அமையும்.</p>
<p>57. சுயமரியாதை, சமூகநீதி, எடுத்துச் சமத்துவம், பகுத்தறிவுச் சிந்தனை மற்றும் பரிவு ஆகிய கொள்கைகளைச் சிறிதளவும் பிறழாது கடைப்பிடிக்க இந்த அரசு உறுதிகொண்டுள்ளது. தந்தை பெரியார், அண்ணல் அம்பேத்கர், பெருந்தலைவர் காமராசர், பேரறிஞர் அண்ணா, முத்தமிழறிஞர் கலைஞர் போன்ற பெருந்தலைவர்களின் சிந்தனைகள் மற்றும் கொள்கைகள் இந்த அரசை தொடர்ந்து வழிநடத்தி வருகின்றன. எதிர்காலத்திலும் வழிநடத்தும்.</p>
<p>58. நமது அரசு பொறுப்பேற்றது முதல், மக்களுக்கு அளித்த வாக்குறுதிகளை அவர்களது எதிர்பார்ப்புகளுக்கும் மேலாகவே நிறைவேற்றியுள்ளதுடன், குறுகியகாலத்தில் செய்த இச்சாதனைகள் குறித்தும், ஒருமித்த முன்னேற்றம் குறித்தும் இந்த அரசு பெருமிதம் கொள்கிறது. தமிழ்நாட்டு மக்களின் நல்வாழ்வு மற்றும் வளத்திற்காக தொடர்ந்து அர்ப்பணிப்புடன் செயலாற்றி, மாபெரும் தமிழ்க் கனவை நனவாக்கிட இந்த அரசு முழுமூச்சுடன் பாடுபடும். நமது அரசின் மீது தமிழ்நாட்டு மக்கள் வைத்திருக்கும் அசைக்க முடியாத நம்பிக்கையினை அண்மையில் நடந்து முடிந்த நாடாளுமன்ற பொதுத் தேர்தல் முடிவுகள் மூலம் வெளிப்படுத்தியமைக்குத் தனது மனமார்ந்த நன்றிகளைத் தெரிவித்துக் கொள்வதுடன், அந்நம்பிக்கையினை இனிவரும் நாட்களிலும் இந்த அரசு தவறாது காத்திடும். ஒட்டுமொத்த நாட்டிற்கும், சமூகநீதி, மத நல்லிணக்கம், பகுத்தறிவுச் சிந்தனை மற்றும் மக்களாட்சிக் கோட்பாடுகளுக்கு வழிகாட்டியாக தமிழ்நாடு தொடர்ந்து திகழ்வதை இந்த அரசு உறுதி செய்யும். நாட்டின் பிற மாநிலங்கள் மட்டுமன்றி, தெற்காசியாவிற்கே முன்மாதிரி மாநிலமாகவும், தமிழ்நாட்டை உருவாக்கிட இந்த அரசு அனைத்து முயற்சிகளையும் மேற்கொள்ளும்.</p>
<p>59. அனைவருக்கும் மீண்டும் ஒருமுறை எனது இனிய பொங்கல் நல்வாழ்த்துகளைத் தெரிவித்துக்கொண்டு, மகாகவி பாரதியாரின் காலத்தால் அழியாத கவிதை வரிகளுடன் எனது உரையை நிறைவு செய்கிறேன்.</p>
</div>
<div class="b c5" style="top:3062px;height:72px;font-weight:bold;padding-left:22px;width:358px;text-align:left;">
வாழிய செந்தமிழ்!<br>வாழ்க நற்றமிழர்!<br>வாழிய பாரத மணித்திரு நாடு!
</div>
<div class="b c5" style="top:3134px;height:72px;">
<p>இவ்வாறு சட்டப் பேரவைத் தலைவர் மு.அப்பாவு அவர்கள் ஆளுநர் உரையின் தமிழாக்கத்தைப் படித்தார்.</p>
</div>

</body></html>
